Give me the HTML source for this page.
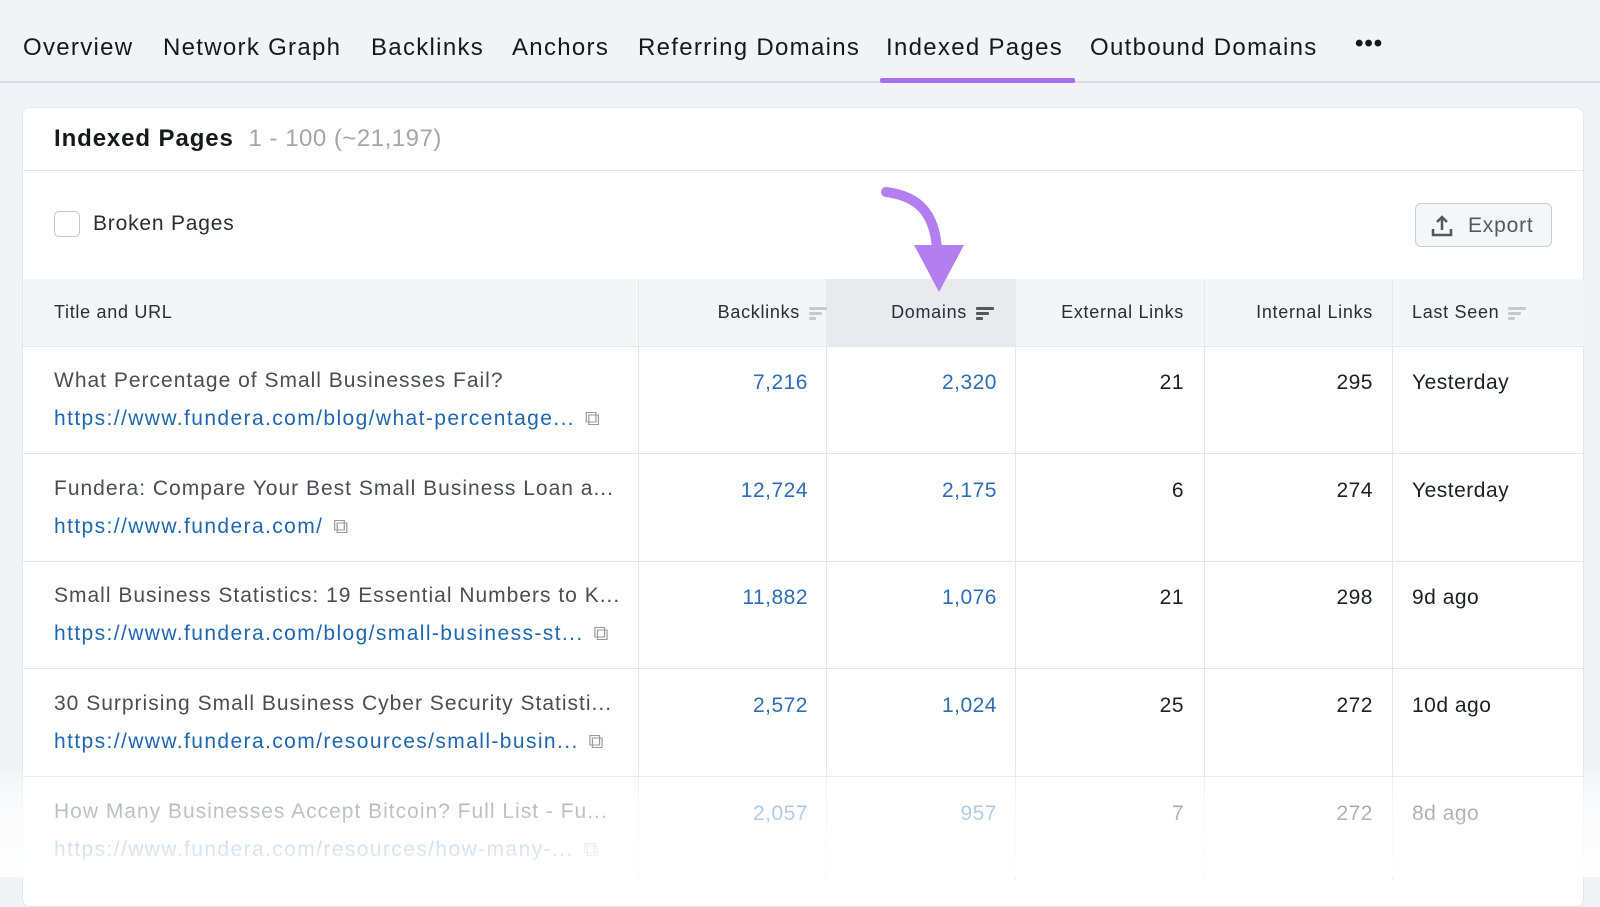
<!DOCTYPE html>
<html><head><meta charset="utf-8"><style>
*{margin:0;padding:0;box-sizing:border-box}
body{width:1600px;height:877px;background:#f1f3f6;font-family:"Liberation Sans",sans-serif;position:relative;overflow:hidden;color:#1d1f23}
.a{position:absolute;white-space:nowrap}
.tab{font-size:24px;top:34px;color:#16181c;letter-spacing:1.3px}
.card{position:absolute;left:22px;top:107px;width:1562px;height:800px;background:#fff;border:1px solid #e4e7eb;border-radius:8px}
.hl{position:absolute;height:1px;background:#e2e5e9}
.vl{position:absolute;width:1px;background:#e6e8ec}
.th{font-size:18px;color:#2a2d33;top:302px;letter-spacing:0.7px}
.num{font-size:21px;top:371px;letter-spacing:0.5px}
.blue{color:#2d6db3}
.t{font-size:21px;color:#4a4d53;letter-spacing:1px}
.u{font-size:21px;color:#1f66b0;letter-spacing:1.4px}
.ic{color:#999;letter-spacing:0;margin-left:4px}
.sort{display:inline-block;vertical-align:middle;margin-left:9px;width:18px}
.sort i{display:block;height:3px;background:#c6c9ce;margin:2px 0;border-radius:1px}
</style></head><body>
<div class="a tab" style="left:23px">Overview</div>
<div class="a tab" style="left:163px">Network Graph</div>
<div class="a tab" style="left:371px">Backlinks</div>
<div class="a tab" style="left:512px">Anchors</div>
<div class="a tab" style="left:638px">Referring Domains</div>
<div class="a tab" style="left:886px">Indexed Pages</div>
<div class="a tab" style="left:1090px">Outbound Domains</div>
<div class="a tab" style="left:1355px;top:30px;font-weight:bold;letter-spacing:1px">•••</div>
<div class="a" style="left:0;top:81px;width:1600px;height:2px;background:#d9dde2"></div>
<div class="a" style="left:880px;top:78px;width:195px;height:5px;background:#a66ef0;border-radius:2px"></div>

<div class="card"></div>
<div class="a" style="left:54px;top:125px;font-size:24px;font-weight:bold;color:#16181c;letter-spacing:0.9px">Indexed Pages <span style="font-weight:normal;color:#a3a6ab;letter-spacing:0.5px">&nbsp;1 - 100 (~21,197)</span></div>
<div class="hl" style="left:23px;top:170px;width:1560px"></div>
<div class="a" style="left:54px;top:211px;width:26px;height:26px;border:1.5px solid #c3c6cb;border-radius:5px"></div>
<div class="a" style="left:93px;top:212px;font-size:21px;color:#2a2d33;letter-spacing:0.8px">Broken Pages</div>
<div class="a" style="left:1415px;top:203px;width:137px;height:44px;border:1.5px solid #c9ccd1;border-radius:6px;background:#f5f6f8;font-size:21px;color:#54585e;padding:10px 0 0 52px;letter-spacing:0.8px">Export</div>
<svg class="a" style="left:1430px;top:214px" width="24" height="24"><path d="M12 3v13M7 8l5-5 5 5M3 15v6h18v-6" stroke="#54585e" stroke-width="2.5" fill="none"/></svg>

<div class="a" style="left:23px;top:279px;width:1561px;height:67px;background:#f4f5f7"></div>
<div class="a" style="left:826px;top:279px;width:189px;height:67px;background:#e8eaed"></div>
<div class="hl" style="left:23px;top:346px;width:1561px"></div>
<div class="vl" style="left:638px;top:279px;height:600px"></div>
<div class="vl" style="left:826px;top:279px;height:600px"></div>
<div class="vl" style="left:1015px;top:279px;height:600px"></div>
<div class="vl" style="left:1204px;top:279px;height:600px"></div>
<div class="vl" style="left:1392px;top:279px;height:600px"></div>
<div class="a th" style="left:54px">Title and URL</div>
<div class="a th" style="right:773px">Backlinks<span class="sort"><i style="width:18px"></i><i style="width:13px"></i><i style="width:7px"></i></span></div>
<div class="a th" style="right:606px">Domains<span class="sort"><i style="width:18px;background:#55585e"></i><i style="width:13px;background:#55585e"></i><i style="width:7px;background:#55585e"></i></span></div>
<div class="a th" style="right:416px">External Links</div>
<div class="a th" style="right:227px">Internal Links</div>
<div class="a th" style="left:1412px">Last Seen<span class="sort"><i style="width:18px"></i><i style="width:13px"></i><i style="width:7px"></i></span></div>

<div class="hl" style="left:23px;top:453px;width:1561px"></div>
<div class="hl" style="left:23px;top:561px;width:1561px"></div>
<div class="hl" style="left:23px;top:668px;width:1561px"></div>
<div class="hl" style="left:23px;top:776px;width:1561px"></div>

<div class="a t" style="left:54px;top:369px">What Percentage of Small Businesses Fail?</div>
<div class="a u" style="left:54px;top:407px">https://www.fundera.com/blog/what-percentage...<span class="ic"> ⧉</span></div>
<div class="a num blue" style="right:792px">7,216</div><div class="a num blue" style="right:603px">2,320</div>
<div class="a num" style="right:416px">21</div><div class="a num" style="right:227px">295</div><div class="a num" style="left:1412px">Yesterday</div>

<div class="a t" style="left:54px;top:477px">Fundera: Compare Your Best Small Business Loan a...</div>
<div class="a u" style="left:54px;top:515px">https://www.fundera.com/<span class="ic"> ⧉</span></div>
<div class="a num blue" style="right:792px;top:479px">12,724</div><div class="a num blue" style="right:603px;top:479px">2,175</div>
<div class="a num" style="right:416px;top:479px">6</div><div class="a num" style="right:227px;top:479px">274</div><div class="a num" style="left:1412px;top:479px">Yesterday</div>

<div class="a t" style="left:54px;top:584px">Small Business Statistics: 19 Essential Numbers to K...</div>
<div class="a u" style="left:54px;top:622px">https://www.fundera.com/blog/small-business-st...<span class="ic"> ⧉</span></div>
<div class="a num blue" style="right:792px;top:586px">11,882</div><div class="a num blue" style="right:603px;top:586px">1,076</div>
<div class="a num" style="right:416px;top:586px">21</div><div class="a num" style="right:227px;top:586px">298</div><div class="a num" style="left:1412px;top:586px">9d ago</div>

<div class="a t" style="left:54px;top:692px">30 Surprising Small Business Cyber Security Statisti...</div>
<div class="a u" style="left:54px;top:730px">https://www.fundera.com/resources/small-busin...<span class="ic"> ⧉</span></div>
<div class="a num blue" style="right:792px;top:694px">2,572</div><div class="a num blue" style="right:603px;top:694px">1,024</div>
<div class="a num" style="right:416px;top:694px">25</div><div class="a num" style="right:227px;top:694px">272</div><div class="a num" style="left:1412px;top:694px">10d ago</div>

<div class="a t" style="left:54px;top:800px">How Many Businesses Accept Bitcoin? Full List - Fu...</div>
<div class="a u" style="left:54px;top:838px">https://www.fundera.com/resources/how-many-...<span class="ic"> ⧉</span></div>
<div class="a num blue" style="right:792px;top:802px">2,057</div><div class="a num blue" style="right:603px;top:802px">957</div>
<div class="a num" style="right:416px;top:802px">7</div><div class="a num" style="right:227px;top:802px">272</div><div class="a num" style="left:1412px;top:802px">8d ago</div>
<div class="a" style="left:0;top:770px;width:1600px;height:107px;background:linear-gradient(rgba(255,255,255,0.2),rgba(255,255,255,0.6) 30%,rgba(255,255,255,0.95))"></div>

<svg class="a" style="left:0;top:0" width="1600" height="877">
<path d="M886 192 C920 196 935 215 937 250" stroke="#b27ef0" stroke-width="10" fill="none" stroke-linecap="round"/>
<polygon points="914,245 964,245 939,292" fill="#b27ef0"/>
</svg>
</body></html>
